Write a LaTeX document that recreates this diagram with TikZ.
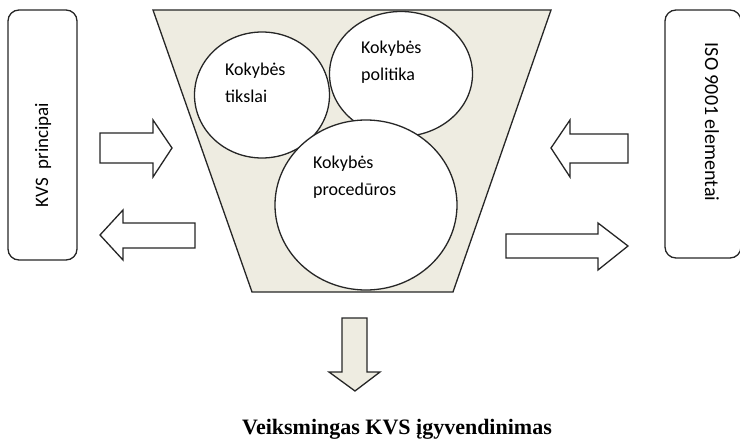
\documentclass[tikz,border=0pt]{standalone}
\usepackage{fontspec}
\setmainfont{Carlito}
\newfontfamily\titlefont{Liberation Serif}
\usetikzlibrary{shapes.geometric}
\definecolor{funnelfill}{HTML}{EEECE1}
\tikzset{
  outline/.style={draw=black!85, line width=1.3pt},
  sidebox/.style={outline, rounded corners=11pt, inner sep=0pt},
  bubble/.style={outline, ellipse, fill=white, inner sep=0pt},
  bubbletext/.style={anchor=north west, inner sep=0pt, align=left,
    font=\fontsize{18}{27}\selectfont},
  sidetext/.style={inner sep=0pt, font=\fontsize{19}{23}\selectfont},
  blockarrow/.style={outline, line join=miter, fill=white},
}
\begin{document}
\begin{tikzpicture}[x=1pt, y=-1pt]
  \useasboundingbox (0,0) rectangle (740,444);

  % side boxes
  \node[sidebox, minimum width=69pt, minimum height=250pt] (kvsbox) at (42.5,135) {};
  \node[sidetext, rotate=90] (kvstext) at (43,155) {KVS\ \ principai};
  \node[sidebox, minimum width=76pt, minimum height=248pt] (isobox) at (703,134) {};
  \node[sidetext, font=\fontsize{20}{24}\selectfont, rotate=-90] (isotext) at (712,122) {ISO 9001 elementai};

  % funnel
  \draw[outline, fill=funnelfill, line join=miter]
    (153,10) coordinate (ftl) -- (551,10) coordinate (ftr)
    -- (453,292) coordinate (fbr) -- (252,292) coordinate (fbl) -- cycle;

  % bubbles inside the funnel
  \node[bubble, minimum width=135pt, minimum height=126pt] (tikslai) at (262,95) {};
  \node[bubble, minimum width=143pt, minimum height=125pt] (politika) at (401,74) {};
  \node[bubble, minimum width=182pt, minimum height=170pt] (proceduros) at (366,205) {};
  \node[bubbletext] (tikslaitext) at (225,63) {Kokybės\\tikslai};
  \node[bubbletext] (politikatext) at (361,41) {Kokybės\\politika};
  \node[bubbletext] (procedurostext) at (313,156) {Kokybės\\procedūros};

  % block arrows between the boxes and the funnel
  \draw[blockarrow] (100,133) -- (153,133) -- (153,120) -- (172,148)
    -- (153,177) -- (153,163) -- (100,163) -- cycle;
  \draw[blockarrow] (195,223) -- (123,223) -- (123,210) -- (100,235)
    -- (123,260) -- (123,248) -- (195,248) -- cycle;
  \draw[blockarrow] (628,134) -- (570,134) -- (570,120) -- (551,148)
    -- (570,177) -- (570,163) -- (628,163) -- cycle;
  \draw[blockarrow] (506,234) -- (598,234) -- (598,223) -- (628,246)
    -- (598,270) -- (598,258) -- (506,258) -- cycle;

  % output arrow
  \draw[blockarrow, fill=funnelfill] (342,318) -- (367,318) -- (367,372) -- (380,372)
    -- (355,391) -- (329,372) -- (342,372) -- cycle;

  \node[anchor=base, inner sep=0pt, font=\titlefont\bfseries\fontsize{22}{26}\selectfont]
    (result) at (397,434) {Veiksmingas KVS įgyvendinimas};
\end{tikzpicture}
\end{document}
